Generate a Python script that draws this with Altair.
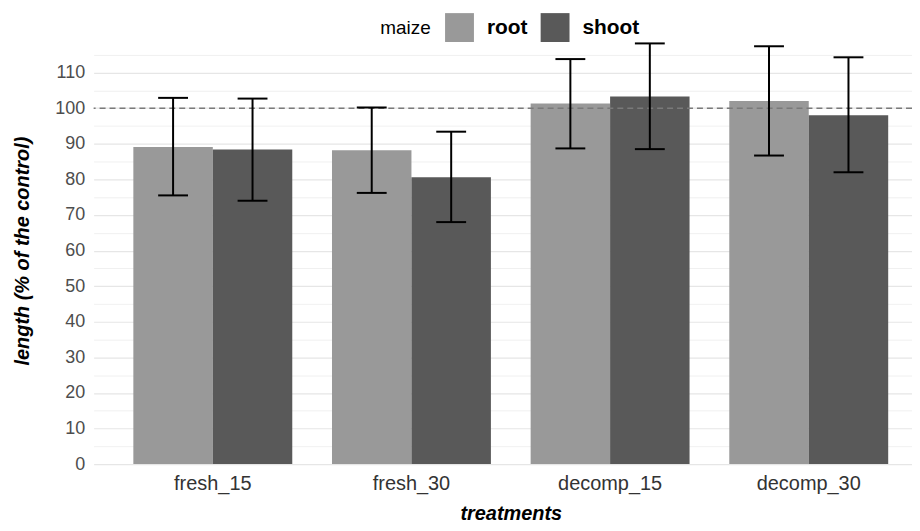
import altair as alt
import pandas as pd

# ---- data ----
treatments = ["fresh_15", "fresh_30", "decomp_15", "decomp_30"]
organs = ["root", "shoot"]
root_mean = [89.1, 88.2, 101.3, 102.0]
root_low = [75.5, 76.2, 88.7, 86.7]
root_high = [102.9, 100.2, 113.8, 117.4]
shoot_mean = [88.4, 80.6, 103.3, 98.0]
shoot_low = [74.0, 68.0, 88.5, 82.0]
shoot_high = [102.7, 93.4, 118.2, 114.3]
control_level = [100]
y_tick_values = [0, 5, 10, 15, 20, 25, 30, 35, 40, 45, 50, 55,
                 60, 65, 70, 75, 80, 85, 90, 95, 100, 105, 110, 115]
organ_colors = ["#999999", "#595959"]

rows = []
for i, t in enumerate(treatments):
    rows.append({"treatment": t, "maize": "root", "mean": root_mean[i],
                 "low": root_low[i], "high": root_high[i]})
    rows.append({"treatment": t, "maize": "shoot", "mean": shoot_mean[i],
                 "low": shoot_low[i], "high": shoot_high[i]})
df = pd.DataFrame(rows)
ref_df = pd.DataFrame({"ref": control_level})

FONT = "Liberation Sans"

x_axis = alt.Axis(
    title="treatments",
    labelAngle=0,
    labelFontSize=20,
    labelColor="#333333",
    labelPadding=9,
    ticks=False,
    domain=False,
    grid=False,
    titleFontSize=20,
    titleFontWeight="bold",
    titleFontStyle="italic",
    titleColor="black",
    titleX=419,
    titleY=56,
    titleBaseline="alphabetic",
)
x_scale = alt.Scale(range=[0, 838], paddingInner=0.2, paddingOuter=0.2)
xoff_enc = alt.XOffset("maize:N", sort=organs,
                       scale=alt.Scale(paddingInner=0, paddingOuter=0))

y_axis = alt.Axis(
    values=y_tick_values,
    labelExpr="datum.value % 10 === 0 ? datum.label : ''",
    gridWidth={"expr": "datum.value % 10 === 0 ? 1.2 : 0.6"},
    gridColor="#e6e6e6",
    ticks=False,
    domain=False,
    labelFontSize=18,
    labelColor="#4d4d4d",
    labelPadding=9,
    title="length (% of the control)",
    titleFontSize=20,
    titleFontWeight="bold",
    titleFontStyle="italic",
    titleColor="black",
    titlePadding=22,
)
y_scale = alt.Scale(domain=[0, 120], nice=False, zero=True)

x_enc = alt.X("treatment:N", sort=treatments, scale=x_scale, axis=x_axis)

base = alt.Chart(df)

bars = base.mark_bar().encode(
    x=x_enc,
    xOffset=xoff_enc,
    y=alt.Y("mean:Q", scale=y_scale, axis=y_axis),
    color=alt.Color(
        "maize:N",
        sort=organs,
        scale=alt.Scale(domain=organs, range=organ_colors),
        legend=alt.Legend(
            orient="none",
            legendX=288,
            legendY=-24,
            direction="horizontal",
            title="maize",
            titleOrient="left",
            titleFontSize=19,
            titleFontWeight="normal",
            titleColor="black",
            titlePadding=14,
            titleBaseline="middle",
            titleAnchor="middle",
            labelFontSize=21,
            labelFontWeight="bold",
            labelColor="black",
            labelOffset=13,
            columnPadding=13,
            symbolType="square",
            symbolSize=841,
            symbolStrokeWidth=0,
            symbolOpacity=1,
            padding=0,
        ),
    ),
)

ref_line = alt.Chart(ref_df).mark_rule(
    color="#7a7a7a", strokeWidth=1.4, strokeDash=[6, 4]
).encode(y=alt.Y("ref:Q", scale=y_scale, axis=y_axis))

err_rule = base.mark_rule(color="black", strokeWidth=2).encode(
    x=x_enc,
    xOffset=xoff_enc,
    y=alt.Y("low:Q", scale=y_scale, axis=y_axis),
    y2="high:Q",
)
cap_top = base.mark_tick(color="black", thickness=2, size=30, opacity=1).encode(
    x=x_enc,
    xOffset=xoff_enc,
    y=alt.Y("high:Q", scale=y_scale, axis=y_axis),
)
cap_low = base.mark_tick(color="black", thickness=2, size=30, opacity=1).encode(
    x=x_enc,
    xOffset=xoff_enc,
    y=alt.Y("low:Q", scale=y_scale, axis=y_axis),
)

chart = (
    alt.layer(bars, ref_line, err_rule, cap_top, cap_low)
    .properties(
        width=822,
        height=429,
        autosize=alt.AutoSizeParams(type="none"),
        padding={"left": 86, "top": 28, "right": 0, "bottom": 58},
    )
    .configure(font=FONT)
    .configure_view(stroke=None)
)

chart.save("out.html", embed_options={"renderer": "svg", "actions": False})
